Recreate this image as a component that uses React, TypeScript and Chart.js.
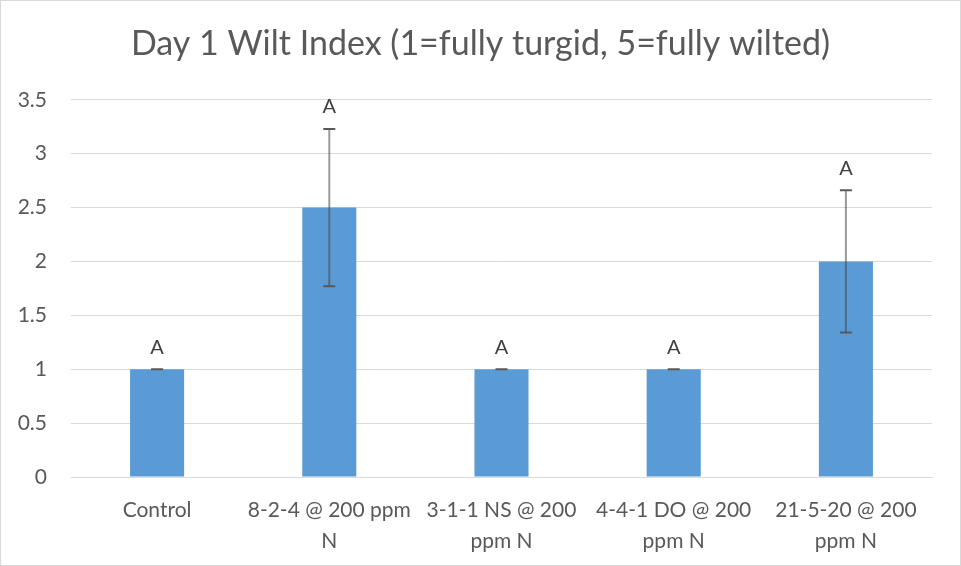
import React, { useEffect, useRef } from "react";
import { Chart, registerables } from "chart.js";

Chart.register(...registerables);

const titleText = "Day 1 Wilt Index (1=fully turgid, 5=fully wilted)";
const categories: string[][] = [
  ["Control"],
  ["8-2-4 @ 200 ppm", "N"],
  ["3-1-1 NS @ 200", "ppm N"],
  ["4-4-1 DO @ 200", "ppm N"],
  ["21-5-20 @ 200", "ppm N"],
];
const values = [1, 2.5, 1, 1, 2];
const errors = [0, 0.73, 0, 0, 0.66];
const letters = ["A", "A", "A", "A", "A"];
const yMin = 0;
const yMax = 3.5;
const yStep = 0.5;

const FONT = "Lato, 'Open Sans', sans-serif";

const centerTitlePlugin = {
  id: "centerTitle",
  afterLayout(chart: any) {
    const t = chart.titleBlock;
    if (t) {
      t.left = 0;
      t.right = chart.width;
      t.width = chart.width;
    }
  },
};

const errorBarPlugin = {
  id: "errorBars",
  afterDatasetsDraw(chart: any) {
    const ctx = chart.ctx;
    const meta = chart.getDatasetMeta(0);
    const yScale = chart.scales.y;
    ctx.save();
    meta.data.forEach((bar: any, i: number) => {
      const x = bar.x;
      const v = values[i];
      const e = errors[i];
      const yTop = yScale.getPixelForValue(v + e);
      const yBot = yScale.getPixelForValue(v - e);
      ctx.strokeStyle = "rgba(70,70,70,0.55)";
      ctx.lineWidth = 2;
      ctx.beginPath();
      ctx.moveTo(x, yTop);
      ctx.lineTo(x, yBot);
      ctx.stroke();
      ctx.strokeStyle = "#595959";
      ctx.lineWidth = 2;
      ctx.beginPath();
      ctx.moveTo(x - 6, yTop);
      ctx.lineTo(x + 6, yTop);
      ctx.moveTo(x - 6, yBot);
      ctx.lineTo(x + 6, yBot);
      ctx.stroke();
      ctx.fillStyle = "#404040";
      ctx.font = `20px ${FONT}`;
      ctx.textAlign = "center";
      ctx.textBaseline = "middle";
      ctx.fillText(letters[i], x, yTop - 22);
    });
    ctx.restore();
  },
};

export default function App() {
  const ref = useRef<HTMLCanvasElement | null>(null);
  useEffect(() => {
    document.body.style.margin = "0";
    if (!ref.current) return;
    const chart = new Chart(ref.current, {
      type: "bar",
      data: {
        labels: categories,
        datasets: [
          {
            data: values,
            backgroundColor: "#5b9bd5",
            borderWidth: 0,
            categoryPercentage: 1,
            barPercentage: 0.314,
          },
        ],
      },
      options: {
        animation: false,
        responsive: true,
        maintainAspectRatio: false,
        layout: { padding: { left: 0, right: 28, top: 0, bottom: 0 } },
        plugins: {
          legend: { display: false },
          tooltip: { enabled: false },
          title: {
            display: true,
            text: titleText,
            color: "#595959",
            font: { family: FONT, size: 34, weight: "normal" },
            padding: { top: 23, bottom: 35 },
          },
        },
        scales: {
          x: {
            grid: { display: false, drawTicks: false },
            border: { display: true, color: "#d9d9d9", width: 1 },
            ticks: {
              color: "#595959",
              font: { family: FONT, size: 21, lineHeight: 1.5 },
              maxRotation: 0,
              autoSkip: false,
              padding: 17,
            },
            afterFit: (scale: any) => {
              scale.height = 88;
            },
          },
          y: {
            min: yMin,
            max: yMax,
            grid: { color: "#d9d9d9", drawTicks: false, lineWidth: 1 },
            border: { display: false },
            ticks: {
              stepSize: yStep,
              color: "#595959",
              font: { family: FONT, size: 21 },
              padding: 24,
              callback: (v: any) => `${v}`,
            },
            afterFit: (scale: any) => {
              scale.width = 70;
            },
          },
        },
      },
      plugins: [centerTitlePlugin, errorBarPlugin],
    });
    return () => chart.destroy();
  }, []);
  return (
    <div
      style={{
        width: 961,
        height: 566,
        boxSizing: "border-box",
        border: "1px solid #d9d9d9",
        position: "relative",
        background: "#fff",
      }}
    >
      <canvas ref={ref} />
    </div>
  );
}
